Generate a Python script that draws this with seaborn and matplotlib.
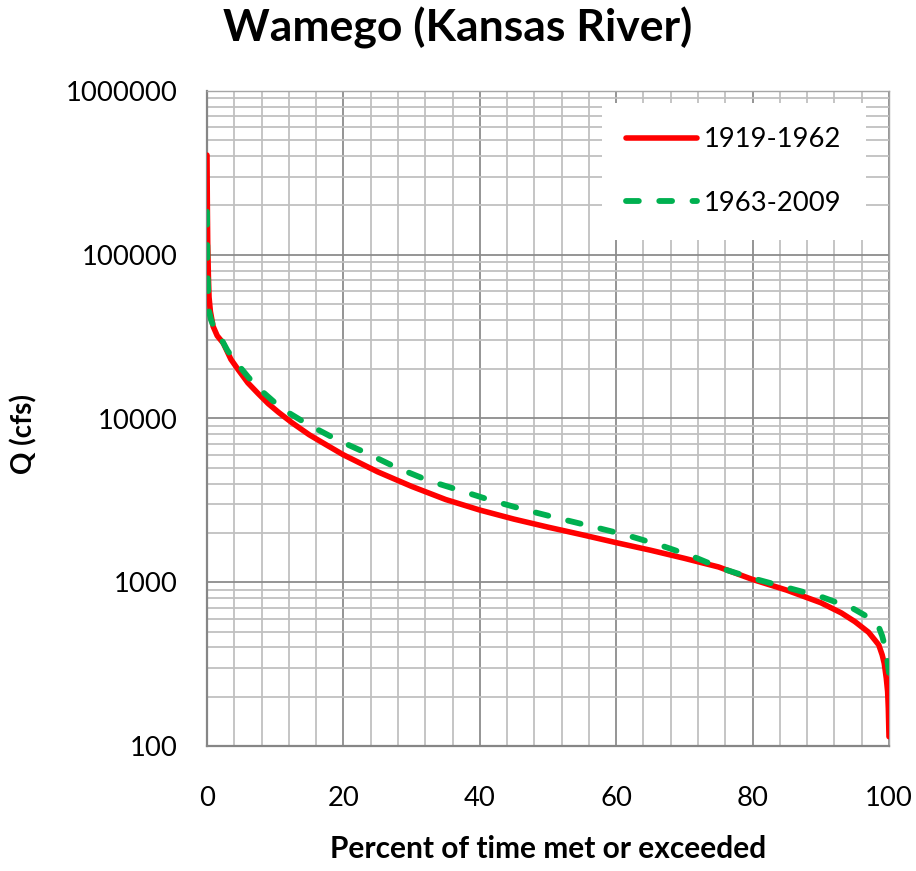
import numpy as np
import pandas as pd
import matplotlib
matplotlib.use("Agg")
import matplotlib.pyplot as plt
import seaborn as sns
from matplotlib.ticker import MultipleLocator, LogLocator, FixedLocator, FixedFormatter, NullFormatter

# ---- data ----
title = "Wamego (Kansas River)"
x_label = "Percent of time met or exceeded"
y_label = "Q (cfs)"
series_names = ["1919-1962", "1963-2009"]

pct_1919 = [0, 0.05, 0.1, 0.2, 0.3, 0.5, 0.9, 1.5, 2.4, 3.5, 4.6, 6, 7.5, 9, 10.5,
            12.5, 15, 17.5, 20, 25, 30, 35, 40, 45, 50, 55, 60, 65, 70, 75, 80, 85,
            90, 93, 95, 97, 98, 98.5, 99, 99.3, 99.6, 99.8, 99.9, 100]
q_1919 = [406000, 200000, 120000, 75000, 55000, 45000, 36500, 32000, 28800, 23000,
          19800, 16500, 14200, 12300, 10900, 9400, 7950, 6900, 6000, 4730, 3850,
          3200, 2760, 2430, 2170, 1950, 1745, 1570, 1400, 1240, 1040, 895, 750, 650,
          575, 495, 440, 414, 360, 320, 260, 215, 170, 114]

pct_1963 = [0, 0.05, 0.1, 0.2, 0.3, 0.6, 1.0, 1.9, 3, 4.4, 6, 7.4, 10.95, 14.7, 19.1,
            23.5, 27.7, 32.5, 37.2, 41.8, 46.7, 51.6, 56.6, 61.6, 66.4, 71.1, 75.5,
            80.1, 85, 90, 94.6, 97, 98.4, 99, 99.5, 99.75, 100]
q_1963 = [183000, 100000, 75000, 55000, 45000, 40000, 36000, 31600, 26000, 21700,
          18000, 15500, 11500, 9250, 7400, 6120, 5035, 4170, 3625, 3150, 2763, 2455,
          2183, 1936, 1687, 1445, 1213, 1055, 929, 817, 696, 610, 546, 470, 390, 332,
          280]

x_ticks = [0, 20, 40, 60, 80, 100]
y_ticks = [100, 1000, 10000, 100000, 1000000]
y_tick_labels = ["100", "1000", "10000", "100000", "1000000"]

df = pd.concat([
    pd.DataFrame({"pct": pct_1919, "q": q_1919, "period": series_names[0]}),
    pd.DataFrame({"pct": pct_1963, "q": q_1963, "period": series_names[1]}),
])

sns.set_theme(style="white")
plt.rcParams['font.family'] = ['Lato', 'DejaVu Sans']
plt.rcParams['text.color'] = 'black'
plt.rcParams['axes.labelcolor'] = 'black'
plt.rcParams['xtick.color'] = 'black'
plt.rcParams['ytick.color'] = 'black'

W, H = 916, 871
fig = plt.figure(figsize=(W / 100, H / 100), dpi=100)
ax_l, ax_r, ax_t, ax_b = 207, 889, 91, 746
ax = fig.add_axes([ax_l / W, 1 - ax_b / H, (ax_r - ax_l) / W, (ax_b - ax_t) / H])

red = "#FF0000"
green = "#00B050"

sns.lineplot(data=df[df.period == series_names[0]], x="pct", y="q", ax=ax,
             color=red, lw=4.0, estimator=None, sort=False,
             solid_capstyle="round", solid_joinstyle="round",
             label=series_names[0], zorder=3)
sns.lineplot(data=df[df.period == series_names[1]], x="pct", y="q", ax=ax,
             color=green, lw=4.2, estimator=None, sort=False,
             linestyle=(0, (2.2, 3.5)), dash_capstyle="round",
             label=series_names[1], zorder=4)

ax.set_yscale("log")
ax.set_xlim(0, 100)
ax.set_ylim(100, 1000000)

ax.xaxis.set_major_locator(FixedLocator(x_ticks))
ax.xaxis.set_minor_locator(MultipleLocator(4))
ax.yaxis.set_major_locator(FixedLocator(y_ticks))
ax.yaxis.set_major_formatter(FixedFormatter(y_tick_labels))
ax.yaxis.set_minor_locator(LogLocator(base=10, subs=np.arange(2, 10)))
ax.yaxis.set_minor_formatter(NullFormatter())

ax.grid(which="major", color="#8c8c8c", lw=1.3, zorder=0)
ax.grid(which="minor", color="#c0c0c0", lw=1.3, zorder=0)
ax.set_axisbelow(True)

for s in ["top", "right"]:
    ax.spines[s].set_color("#a6a6a6")
    ax.spines[s].set_linewidth(1.0)
for s in ["left", "bottom"]:
    ax.spines[s].set_color("#868686")
    ax.spines[s].set_linewidth(1.6)

ax.tick_params(axis="both", which="both", length=0, labelsize=19.7, colors="black")
ax.tick_params(axis="x", pad=29)
ax.tick_params(axis="y", pad=21)

ax.set_xlabel(x_label, fontsize=21.5, fontweight="bold", color="black")
ax.xaxis.set_label_coords(0.5, (ax_b - 835) / (ax_b - ax_t))
ax.set_ylabel(y_label, fontsize=20, fontweight="bold", color="black")
ax.yaxis.set_label_coords((37 - ax_l) / (ax_r - ax_l), 1 - (434 - ax_t) / (ax_b - ax_t))

fig.text(0.5, 1 - 41.7 / H, title, ha="center", va="baseline",
         fontsize=32, fontweight="bold", color="black")

leg = ax.legend(loc="upper right", bbox_to_anchor=(0.967, 0.982), fontsize=19.7,
                frameon=True, facecolor="white", edgecolor="none", fancybox=False,
                framealpha=1.0, handlelength=2.6, handletextpad=0.25,
                labelspacing=1.4, borderpad=0.9, borderaxespad=0)
leg.set_zorder(10)
for t in leg.get_texts():
    t.set_color("black")

fig.savefig("out.png", dpi=100)
